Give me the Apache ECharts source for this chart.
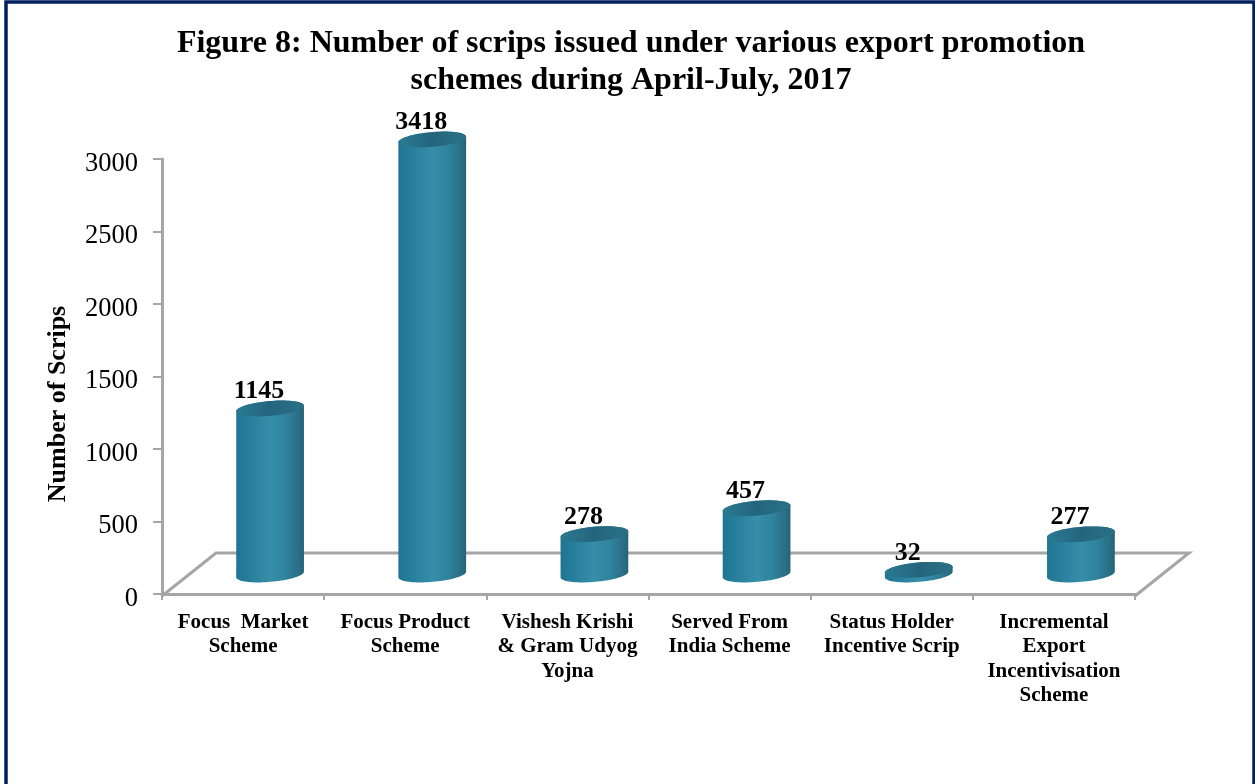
<!DOCTYPE html>
<html>
<head>
<meta charset="utf-8">
<style>html,body{margin:0;padding:0;background:#fff;overflow:hidden}#c{width:1255px;height:784px}</style>
<script src="https://cdn.jsdelivr.net/npm/echarts@6/dist/echarts.min.js"></script>
</head>
<body>
<div id="c"></div>
<script>
const titleLines = ["Figure 8: Number of scrips issued under various export promotion", "schemes during April-July, 2017"];
const yAxisTitle = "Number of Scrips";
const categories = ["Focus  Market\nScheme", "Focus Product\nScheme", "Vishesh Krishi\n& Gram Udyog\nYojna", "Served From\nIndia Scheme", "Status Holder\nIncentive Scrip", "Incremental\nExport\nIncentivisation\nScheme"];
const values = [1145, 3418, 278, 457, 32, 277];
const yMax = 3000;
const yStep = 500;

const FONT = '"Liberation Serif","Times New Roman",serif';
const GRAY = '#a6a6a6';
const DEPTH_X = 54, DEPTH_Y = 43;
const RX = 34, RY = 7.4, TILT = -5 * Math.PI / 180;

function ellipseArc(cx, cy, t0, t1, n) {
  const pts = [];
  for (let i = 0; i <= n; i++) {
    const t = t0 + (t1 - t0) * i / n;
    const ex = RX * Math.cos(t), ey = RY * Math.sin(t);
    pts.push([cx + ex * Math.cos(TILT) - ey * Math.sin(TILT), cy + ex * Math.sin(TILT) + ey * Math.cos(TILT)]);
  }
  return pts;
}
const sideFill = new echarts.graphic.LinearGradient(0, 0, 1, 0, [
  {offset: 0, color: '#1f7491'},
  {offset: 0.12, color: '#247b98'},
  {offset: 0.5, color: '#378ea9'},
  {offset: 0.72, color: '#2f84a0'},
  {offset: 0.92, color: '#2a6f86'},
  {offset: 1, color: '#266376'}
]);
const topFill = new echarts.graphic.LinearGradient(0, 0, 1, 0, [
  {offset: 0, color: '#2a7a92'},
  {offset: 0.5, color: '#24657d'},
  {offset: 1, color: '#2a7186'}
]);

function renderFloor(params, api) {
  const cs = params.coordSys;
  const L = cs.x, R = cs.x + cs.width, B = cs.y + cs.height + 2;
  return {
    type: 'polyline', z2: 0, silent: true,
    shape: {points: [[L, B], [L + DEPTH_X, B - DEPTH_Y], [R + DEPTH_X, B - DEPTH_Y], [R, B]]},
    style: {stroke: GRAY, lineWidth: 3, fill: null}
  };
}
function renderBar(params, api) {
  const idx = api.value(0), raw = api.value(1);
  const base = api.coord([idx, 0]);
  const top = api.coord([idx, Math.min(raw, yMax)]);
  const cx = base[0] + DEPTH_X / 2;
  const by = base[1] - DEPTH_Y / 2 + 2;
  const ty = top[1] - DEPTH_Y / 2 + 2;
  const bottomArc = ellipseArc(cx, by, Math.PI, 0, 40);
  const topArc = ellipseArc(cx, ty, 0, -Math.PI, 40);
  return {
    type: 'group',
    children: [
      {type: 'polygon', shape: {points: bottomArc.concat(topArc)}, style: {fill: sideFill}},
      {type: 'polygon', shape: {points: ellipseArc(cx, ty, 0, Math.PI * 2, 80)}, style: {fill: topFill}},
      {type: 'text', style: {x: cx - 11, y: ty - 4, text: String(raw), fill: '#000', font: 'bold 26px ' + FONT, textAlign: 'center', textVerticalAlign: 'bottom'}}
    ]
  };
}

const chart = echarts.init(document.getElementById('c'), null, {renderer: 'canvas', width: 1255, height: 784});
chart.setOption({
  animation: false,
  backgroundColor: '#fff',
  graphic: [
    {type: 'polyline', z: 100, silent: true, shape: {points: [[6, 800], [6, 2], [1254, 2], [1254, 800]]}, style: {stroke: '#002060', lineWidth: 3.5, fill: null}},
    {type: 'text', z: 100, silent: true, x: 58, y: 404, rotation: Math.PI / 2,
     style: {text: yAxisTitle, fill: '#000', font: 'bold 26px ' + FONT, textAlign: 'center', textVerticalAlign: 'middle'}}
  ],
  title: {
    text: titleLines.join('\n'),
    left: 626, top: 20, textAlign: 'center',
    textStyle: {fontFamily: FONT, fontWeight: 'bold', fontSize: 32, lineHeight: 37, color: '#000'}
  },
  grid: {left: 162, right: 120, top: 159, bottom: 190, containLabel: false},
  xAxis: {
    type: 'category', data: categories,
    axisLine: {show: true, onZero: false, lineStyle: {color: GRAY, width: 3}},
    axisTick: {show: true, alignWithLabel: false, length: 6, lineStyle: {color: GRAY, width: 2}},
    axisLabel: {interval: 0, margin: 16, fontFamily: FONT, fontWeight: 'bold', fontSize: 21, lineHeight: 24.5, color: '#000'},
    splitLine: {show: false}
  },
  yAxis: {
    type: 'value', min: 0, max: yMax, interval: yStep,
    axisLine: {show: true, lineStyle: {color: GRAY, width: 3}},
    axisTick: {show: true, length: 9, lineStyle: {color: GRAY, width: 2}},
    axisLabel: {margin: 24, fontFamily: FONT, fontSize: 26.5, color: '#000', verticalAlign: 'top', lineHeight: 10, formatter: v => String(v)},
    splitLine: {show: false}
  },
  series: [
    {type: 'custom', coordinateSystem: 'cartesian2d', z: 1, renderItem: renderFloor, data: [[0, 0]], encode: {x: 0, y: 1}, silent: true, clip: false},
    {type: 'custom', coordinateSystem: 'cartesian2d', z: 5, renderItem: renderBar, data: values.map((v, i) => [i, v]), encode: {x: 0, y: 1}, clip: false}
  ]
});
</script>
</body>
</html>
